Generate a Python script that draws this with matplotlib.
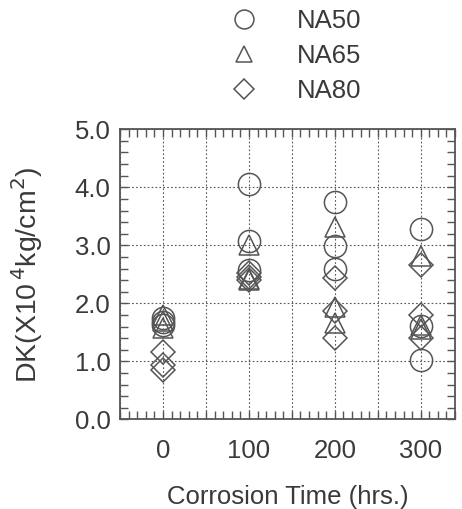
import matplotlib
matplotlib.use("Agg")
import matplotlib.pyplot as plt
from matplotlib.ticker import MultipleLocator, FixedLocator

plt.rcParams['font.family'] = ['Liberation Sans', 'DejaVu Sans']

times = [0, 100, 200, 300]
na50 = [[1.75, 1.68, 1.62], [4.06, 3.08, 2.57], [3.74, 2.99, 2.60], [3.29, 1.61, 1.03]]
na65 = [[1.80, 1.70, 1.58], [3.00, 2.42, 2.40], [3.32, 1.94, 1.66], [2.82, 1.62, 1.55]]
na80 = [[1.17, 0.94, 0.85], [2.52, 2.45, 2.40], [2.43, 1.86, 1.40], [2.66, 1.80, 1.40]]
labels = ["NA50", "NA65", "NA80"]
y_ticks = [0.0, 1.0, 2.0, 3.0, 4.0, 5.0]
x_labels = ["", "0", "", "100", "", "200", "", "300"]

fg = "#555555"
tc = "#3a3a3a"
fig = plt.figure(figsize=(4.62, 5.09), dpi=100)
ax = fig.add_axes([0.26, 0.176, 0.725, 0.570])

for series, marker, lab in zip([na50, na65, na80], ["o", "^", "D"], labels):
    xs, ys = [], []
    for t, vals in zip(times, series):
        xs += [t] * len(vals)
        ys += vals
    ms = 16 if marker == "o" else (14 if marker == "^" else 12)
    ax.plot(xs, ys, ls="none", marker=marker, ms=ms, mfc="none", mec=fg, mew=1.1, label=lab)

ax.set_xlim(-50, 340)
ax.set_ylim(0, 5)
ax.xaxis.set_major_locator(FixedLocator([-50, 0, 50, 100, 150, 200, 250, 300]))
ax.set_xticklabels(x_labels)
ax.xaxis.set_minor_locator(MultipleLocator(10))
ax.set_yticks(y_ticks)
ax.set_yticklabels(["%.1f" % v for v in y_ticks])
ax.yaxis.set_minor_locator(MultipleLocator(0.2))
ax.tick_params(which="both", direction="in", top=True, right=True, colors=fg,
               labelsize=18.5, labelcolor=tc, width=1)
ax.tick_params(which="major", length=6)
ax.tick_params(axis="x", which="major", pad=14)
ax.tick_params(axis="y", which="major", pad=7)
ax.tick_params(which="minor", length=6)
ax.grid(which="major", ls=(0, (1.5, 2)), color=fg, lw=0.8)
for s in ax.spines.values():
    s.set_color(fg)
    s.set_linewidth(1.3)

ax.set_ylabel("DK(X10$^{\\,4}$kg/cm$^2$)", fontsize=20.5, color=tc, labelpad=21)
ax.set_xlabel("Corrosion Time (hrs.)", fontsize=18.5, color=tc, labelpad=16)

fig.legend(loc="upper left", bbox_to_anchor=(0.45, 1.027), frameon=False, fontsize=18.5,
           labelspacing=0.42, handletextpad=1.55, handlelength=1.0, markerscale=0.85,
           labelcolor=tc)

fig.savefig("out.png", dpi=100)
